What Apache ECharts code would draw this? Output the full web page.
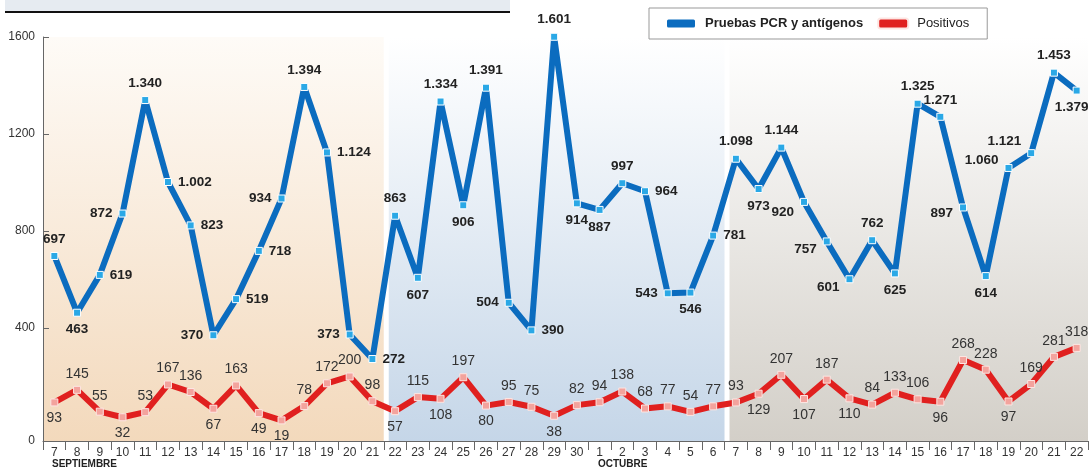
<!DOCTYPE html>
<html>
<head>
<meta charset="utf-8">
<title>Pruebas y positivos</title>
<script src="https://cdn.jsdelivr.net/npm/echarts@6/dist/echarts.min.js"></script>
<style>html,body{margin:0;padding:0;background:#fff;}</style>
</head>
<body>
<div id="main" style="width:1090px;height:471px;"></div>
<script>
// dias: 7-30 septiembre, 1-22 octubre
var dias = ['7','8','9','10','11','12','13','14','15','16','17','18','19','20','21','22','23','24','25','26','27','28','29','30',
            '1','2','3','4','5','6','7','8','9','10','11','12','13','14','15','16','17','18','19','20','21','22'];
var pruebas = [697,463,619,872,1340,1002,823,370,519,718,934,1394,1124,373,272,863,607,1334,906,1391,504,390,1601,914,
               887,997,964,543,546,781,1098,973,1144,920,757,601,762,625,1325,1271,897,614,1060,1121,1453,1379];
var positivos = [93,145,55,32,53,167,136,67,163,49,19,78,172,200,98,57,115,108,197,80,95,75,38,82,
                 94,138,68,77,54,77,93,129,207,107,187,110,84,133,106,96,268,228,97,169,281,318];
var yTicks = [0,400,800,1200,1600];
var meses = ['SEPTIEMBRE','OCTUBRE'];
// tramos de fondo: primer y ultimo indice de dia
var tramos = [[0, 14], [15, 29], [30, 45]];

// donde va cada etiqueta
var posPruebas = ['top','bottom','right','left','top','right','right','left','right','right','left','top','right','left','right','top','bottom','top','bottom','top','left','right','top','bottom',
                  'bottom','top','right','left','bottom','right','top','bottom','top','left','left','left','top','bottom','top','top','left','bottom','left','left','top','bottom'];
var posPositivos = ['bottom','top','top','bottom','top','top','top','bottom','top','bottom','bottom','top','top','top','top','bottom','top','bottom','top','bottom','top','top','bottom','top',
                    'top','top','top','top','top','top','top','bottom','top','bottom','top','bottom','top','top','top','bottom','top','top','bottom','top','top','top'];
// pequeños ajustes de etiquetas
var ajustePruebas = {33: [0, 10], 34: [0, 8], 35: [0, 8], 40: [0, 6], 42: [0, -8], 43: [0, -12], 45: [-5, 0]};

var YMIN = -66;

function miles(v) {
    if (v < 1000) return String(v);
    return Math.floor(v / 1000) + '.' + String(v % 1000).padStart(3, '0');
}
function grad(top, bottom) {
    return {type: 'linear', x: 0, y: 0, x2: 0, y2: 1,
            colorStops: [{offset: 0, color: top}, {offset: 1, color: bottom}]};
}
var fondos = [grad('#fefbf7', '#f3d9bc'), grad('#ffffff', '#c5d6e8'), grad('#ffffff', '#d3cfc8')];

var FONT = "'Liberation Sans', Arial, sans-serif";
var myChart = echarts.init(document.getElementById('main'));

var option = {
    animation: false,
    backgroundColor: '#fff',
    textStyle: {fontFamily: FONT},
    grid: {left: 43, right: 2, top: 37, bottom: 30, containLabel: false},
    legend: {
        left: 649, top: 8,
        padding: [9, 18, 9, 16],
        borderColor: '#999', borderWidth: 1,
        itemWidth: 30, itemHeight: 10, itemGap: 14,
        icon: 'roundRect',
        textStyle: {fontFamily: FONT, fontSize: 13, color: '#222', padding: [0, 0, 0, 4]},
        data: [
            {name: 'Pruebas PCR y antígenos', itemStyle: {color: '#0b6cbf'}, textStyle: {fontWeight: 'bold'}},
            {name: 'Positivos', itemStyle: {color: '#e0201f'}}
        ]
    },
    graphic: [
        {type: 'rect', left: 5, top: 0, shape: {width: 505, height: 11}, style: {fill: '#e6ebf1'}, silent: true},
        {type: 'rect', left: 5, top: 11, shape: {width: 505, height: 2}, style: {fill: '#111'}, silent: true},
        {type: 'text', left: 52, top: 459, style: {text: meses[0], font: "bold 10px " + FONT, fill: '#222'}},
        {type: 'text', left: 598, top: 459, style: {text: meses[1], font: "bold 10px " + FONT, fill: '#222'}}
    ],
    xAxis: [{
        type: 'category',
        data: dias,
        boundaryGap: true,
        axisLine: {onZero: false, lineStyle: {color: '#666', width: 1}},
        axisTick: {show: true, interval: 0, length: 9, lineStyle: {color: '#666'}},
        axisLabel: {interval: 0, fontSize: 12, color: '#333', margin: 6, fontFamily: FONT},
        splitLine: {show: false}
    }, {
        type: 'value', show: false, min: -0.5, max: 45.5,
        axisLine: {onZero: false}
    }],
    yAxis: [{
        type: 'value',
        min: YMIN, max: 1600,
        axisLine: {show: true, onZero: false, lineStyle: {color: '#666'}},
        axisTick: {show: true, inside: true, length: 6, customValues: [400, 800, 1200, 1600], lineStyle: {color: '#666'}},
        axisLabel: {
            customValues: [YMIN].concat(yTicks.slice(1)),
            formatter: function (v) { return v < 0 ? String(yTicks[0]) : String(v); },
            fontSize: 12, color: '#333', margin: 8, fontFamily: FONT
        },
        splitLine: {show: false}
    }],
    series: [{
        name: 'fondo',
        type: 'custom',
        xAxisIndex: 1,
        silent: true,
        z: 0,
        data: tramos.map(function (t, i) { return [t[0], t[1], i]; }),
        encode: {x: [0, 1]},
        renderItem: function (params, api) {
            var cs = params.coordSys;
            var i = api.value(2);
            var x0 = api.coord([api.value(0) - 0.5, 0])[0];
            var x1 = api.coord([api.value(1) + 0.5, 0])[0];
            if (i > 0) x0 += 5;
            return {
                type: 'rect',
                shape: {x: x0, y: cs.y, width: x1 - x0, height: cs.height},
                style: {fill: fondos[i]}
            };
        }
    }, {
        name: 'Pruebas PCR y antígenos',
        type: 'line',
        z: 3,
        clip: false,
        data: pruebas.map(function (v, i) {
            var lb = {position: posPruebas[i]};
            if (ajustePruebas[i]) lb.offset = ajustePruebas[i];
            return {value: v, label: lb};
        }),
        symbol: 'rect',
        symbolSize: 7,
        lineStyle: {color: '#0b6cbf', width: 6},
        itemStyle: {color: '#2aa8e6', borderColor: '#ffffff', borderWidth: 1},
        label: {
            show: true, distance: 6,
            fontFamily: FONT, fontSize: 13.5, fontWeight: 'bold', color: '#222',
            formatter: function (p) { return miles(p.value); }
        }
    }, {
        name: 'Positivos',
        type: 'line',
        z: 2,
        clip: false,
        data: positivos.map(function (v, i) { return {value: v, label: {position: posPositivos[i]}}; }),
        symbol: 'rect',
        symbolSize: 7,
        lineStyle: {color: '#e0201f', width: 6},
        itemStyle: {color: '#f3a39d', borderColor: '#fde6e3', borderWidth: 1},
        label: {
            show: true, distance: 5,
            fontFamily: FONT, fontSize: 14, color: '#333'
        }
    }]
};
myChart.setOption(option);
</script>
</body>
</html>
